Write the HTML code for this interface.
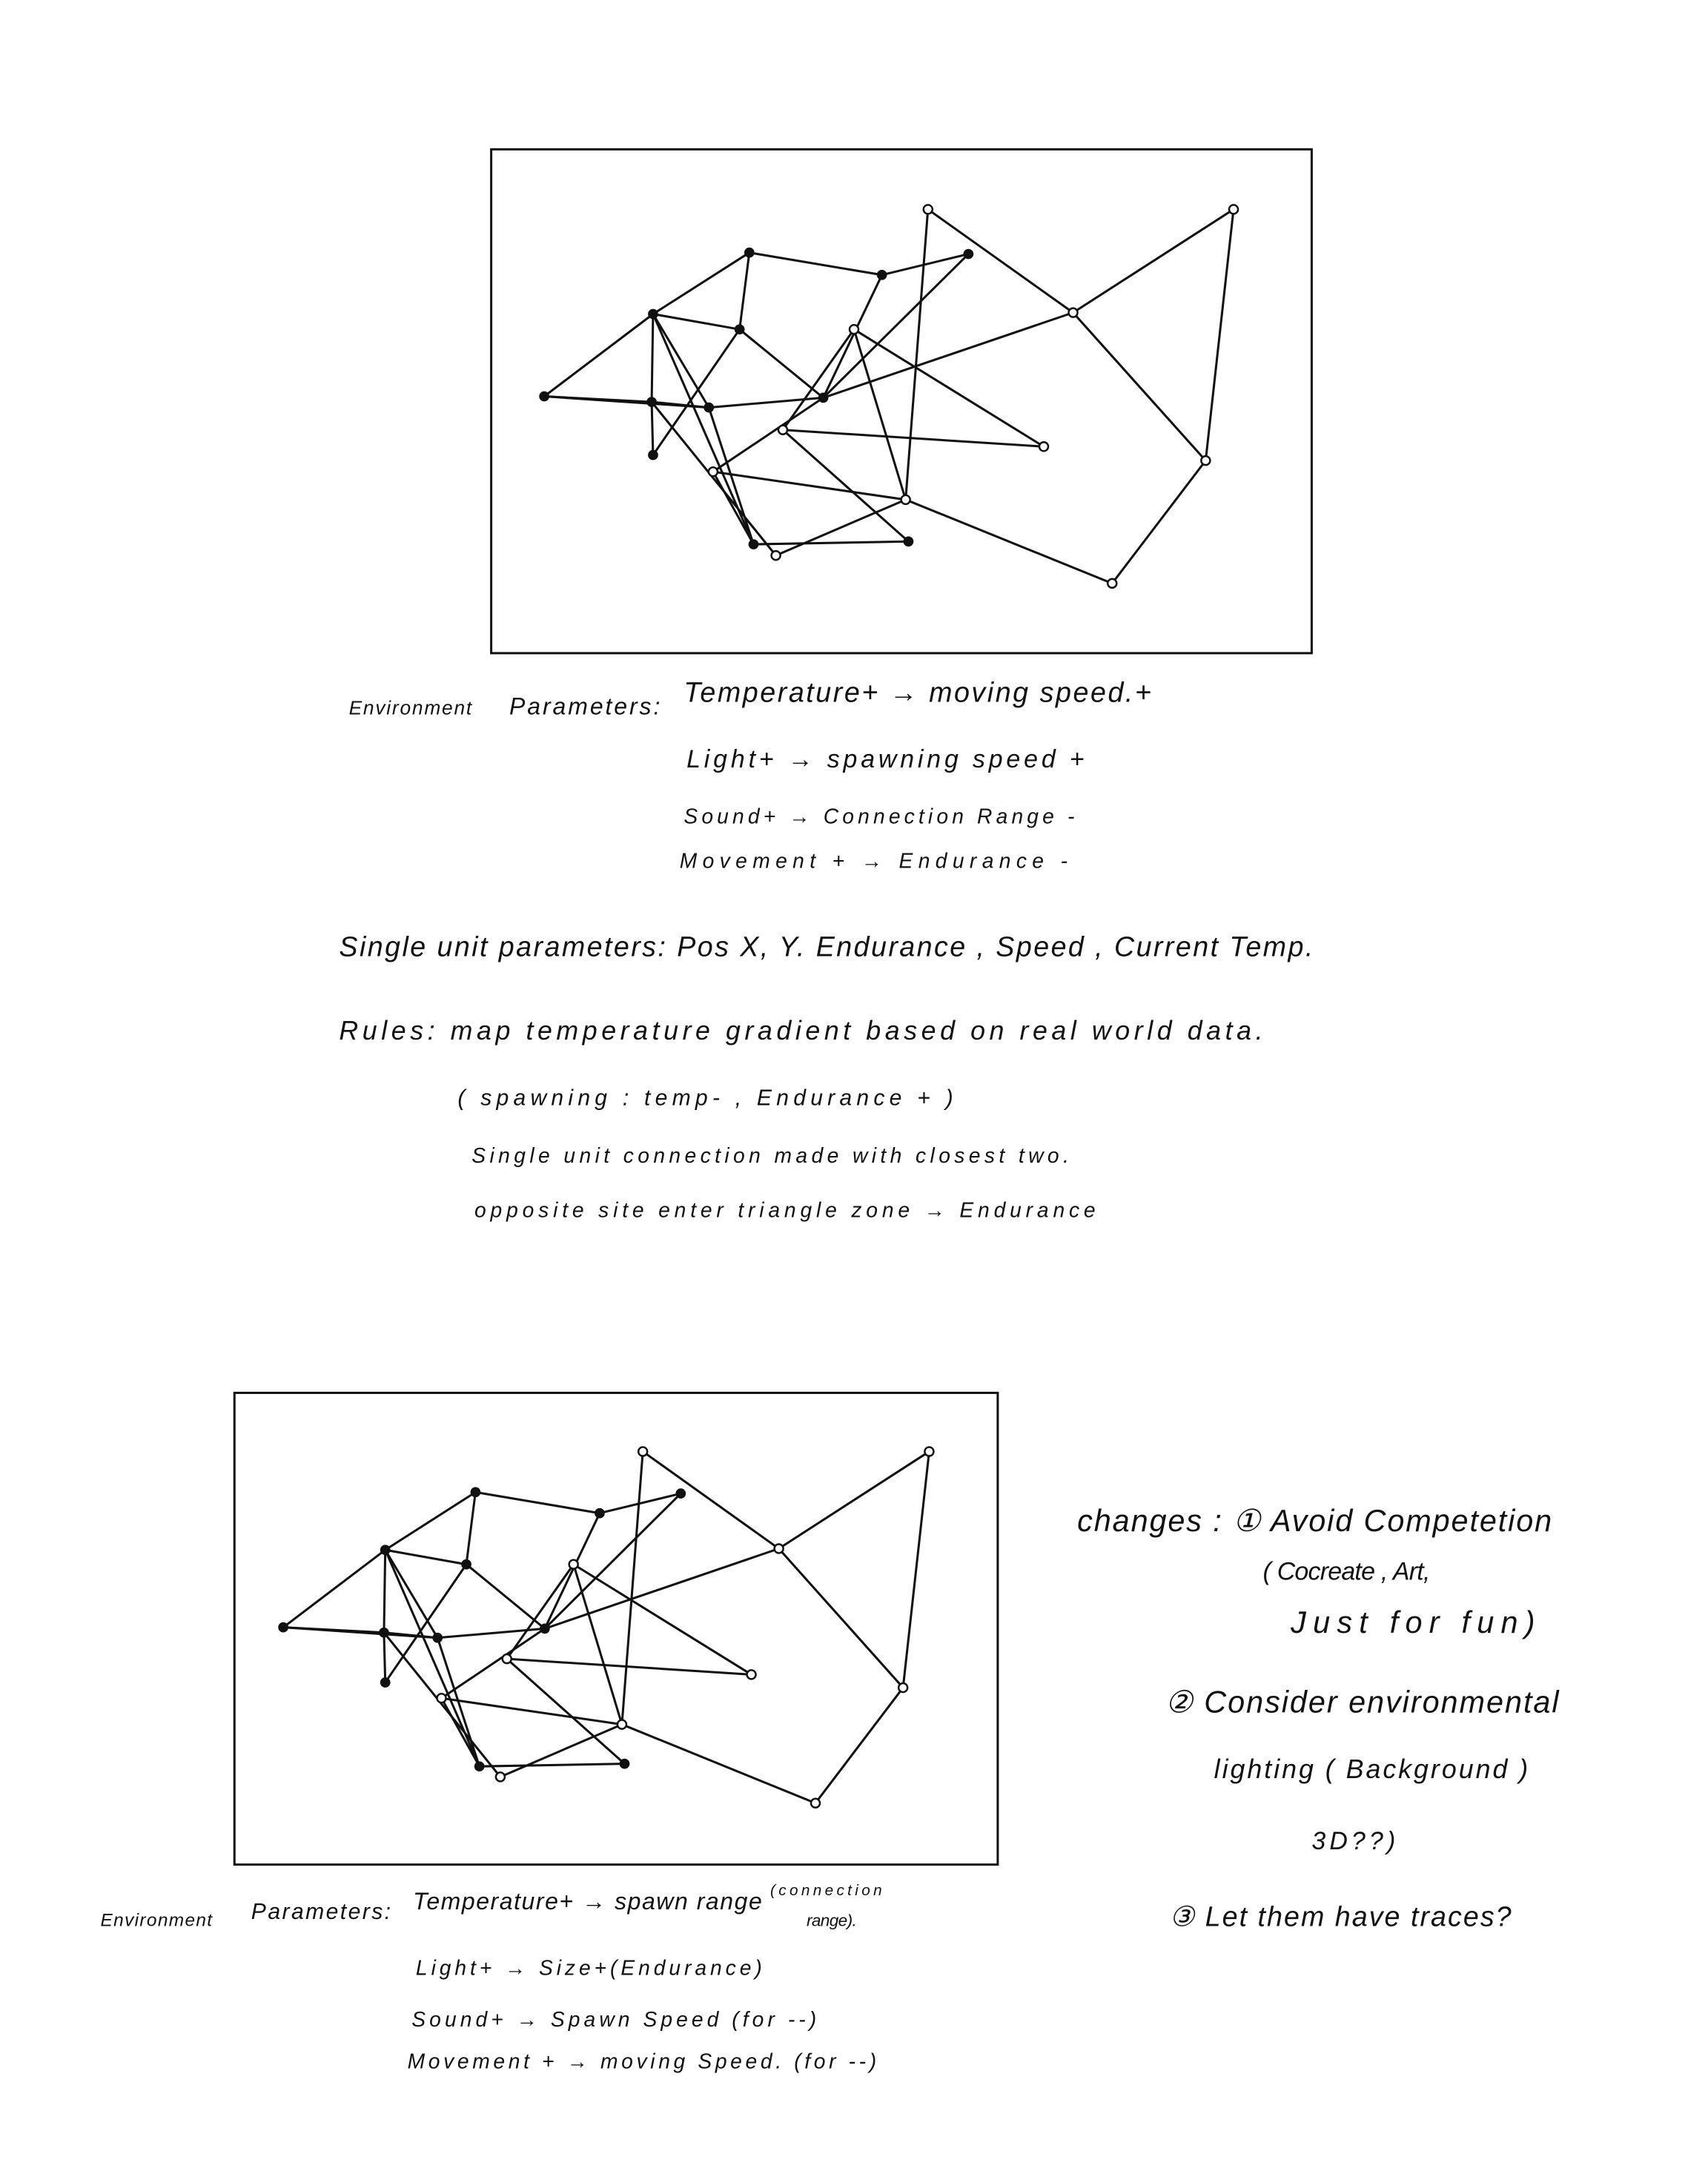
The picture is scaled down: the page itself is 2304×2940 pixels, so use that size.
<!DOCTYPE html>
<html><head><meta charset="utf-8">
<style>
html,body{margin:0;padding:0;background:#fff;}
svg{display:block;}
text{font-family:"Liberation Sans",sans-serif;font-style:italic;fill:#111;}
</style></head>
<body>
<svg id="sk" width="2304" height="2940" viewBox="0 0 1224 1562" preserveAspectRatio="none" xmlns="http://www.w3.org/2000/svg">
<rect x="352" y="107" width="588" height="361" fill="none" stroke="#111" stroke-width="1.6"/>
<rect x="168" y="998" width="547" height="338" fill="none" stroke="#111" stroke-width="1.6"/>
<g id="top"></g>
<g id="bot"></g>

<g>
<text x="250" y="512" font-size="14" textLength="88">Environment</text>
<text x="365" y="512" font-size="17" textLength="108">Parameters:</text>
<text x="490" y="503" font-size="20" textLength="335">Temperature+ → moving speed.+</text>
<text x="492" y="550" font-size="18" textLength="285">Light+ → spawning speed +</text>
<text x="490" y="590" font-size="15" textLength="280">Sound+ → Connection Range  -</text>
<text x="487" y="622" font-size="15" textLength="278">Movement +  → Endurance  -</text>
<text x="243" y="685" font-size="20" textLength="698">Single unit parameters: Pos X, Y. Endurance , Speed , Current Temp.</text>
<text x="243" y="745" font-size="19" textLength="662">Rules: map temperature gradient based on real world data.</text>
<text x="328" y="792" font-size="16" textLength="355">( spawning : temp-  , Endurance +  )</text>
<text x="338" y="833" font-size="15" textLength="428">Single unit connection made with closest two.</text>
<text x="340" y="872" font-size="15" textLength="445">opposite site enter triangle zone → Endurance</text>
</g>
<g>
<text x="72" y="1380" font-size="13" textLength="80">Environment</text>
<text x="180" y="1375" font-size="16" textLength="100">Parameters:</text>
<text x="296" y="1368" font-size="17" textLength="250">Temperature+ → spawn range</text>
<text x="552" y="1358" font-size="11" textLength="80">(connection</text>
<text x="578" y="1380" font-size="12" textLength="36">range).</text>
<text x="298" y="1415" font-size="15" textLength="248">Light+ → Size+(Endurance)</text>
<text x="295" y="1452" font-size="15" textLength="290">Sound+ → Spawn Speed  (for --)</text>
<text x="292" y="1482" font-size="15" textLength="336">Movement +  → moving  Speed. (for --)</text>
</g>
<g>
<text x="772" y="1097" font-size="22" textLength="340">changes : ① Avoid Competetion</text>
<text x="905" y="1132" font-size="18" textLength="120">( Cocreate , Art,</text>
<text x="925" y="1170" font-size="22" textLength="175">Just  for fun)</text>
<text x="835" y="1227" font-size="22" textLength="282">② Consider environmental</text>
<text x="870" y="1274" font-size="19" textLength="225">lighting ( Background )</text>
<text x="940" y="1325" font-size="18" textLength="60">3D??)</text>
<text x="838" y="1380" font-size="20" textLength="245">③ Let them have traces?</text>
</g>
</svg>
<script>
const nodeNames=["A","B","C","D","E","F","G","H","I","J","K","L","M","N","O","P","Q","R","S","T","U","V","W"];
const nodeX=[390,468,537,467,468,508,530,590,632,694,612,561,511,540,556,649,651,748,665,769,884,864,797];
const nodeY=[284,225,181,288,326,292,236,285,197,182,236,308,338,390,398,358,388,320,150,224,150,330,418];
const nodeOpen=[0,0,0,0,0,0,0,0,0,0,1,1,1,0,1,1,0,1,1,1,1,1,1];
const edges=[["A","B"],["A","D"],["A","F"],["B","C"],["C","I"],["C","G"],["B","G"],["G","H"],["B","D"],["D","E"],["B","F"],["D","F"],["E","G"],["B","N"],["F","H"],["I","H"],["J","I"],["J","H"],["S","P"],["S","T"],["T","U"],["T","H"],["U","V"],["T","V"],["V","W"],["P","W"],["K","R"],["K","P"],["L","R"],["H","M"],["M","P"],["M","N"],["N","Q"],["O","P"],["L","Q"],["F","N"],["D","O"],["K","L"]];
const NS="http://www.w3.org/2000/svg";
function draw(g,fx,fy,pre){
  const idx={};nodeNames.forEach((n,i)=>idx[n]=i);
  edges.forEach(e=>{
    const a=idx[e[0]],b=idx[e[1]];
    const l=document.createElementNS(NS,"line");
    l.setAttribute("x1",fx(nodeX[a]));l.setAttribute("y1",fy(nodeY[a]));
    l.setAttribute("x2",fx(nodeX[b]));l.setAttribute("y2",fy(nodeY[b]));
    l.setAttribute("stroke","#111");l.setAttribute("stroke-width","1.6");
    
    
    g.appendChild(l);
  });
  nodeNames.forEach((n,i)=>{
    const c=document.createElementNS(NS,"circle");
    c.setAttribute("cx",fx(nodeX[i]));c.setAttribute("cy",fy(nodeY[i]));
    c.setAttribute("r",nodeOpen[i]?3.2:3);
    c.setAttribute("fill",nodeOpen[i]?"#fff":"#111");
    c.setAttribute("stroke","#111");c.setAttribute("stroke-width","1.3");
    
    
    g.appendChild(c);
  });
}
draw(document.getElementById("top"),x=>x,y=>y,"top");
draw(document.getElementById("bot"),x=>(x-390)*0.937+203,y=>(y-284)*0.94+1166,"bottom");
</script>
</body></html>
